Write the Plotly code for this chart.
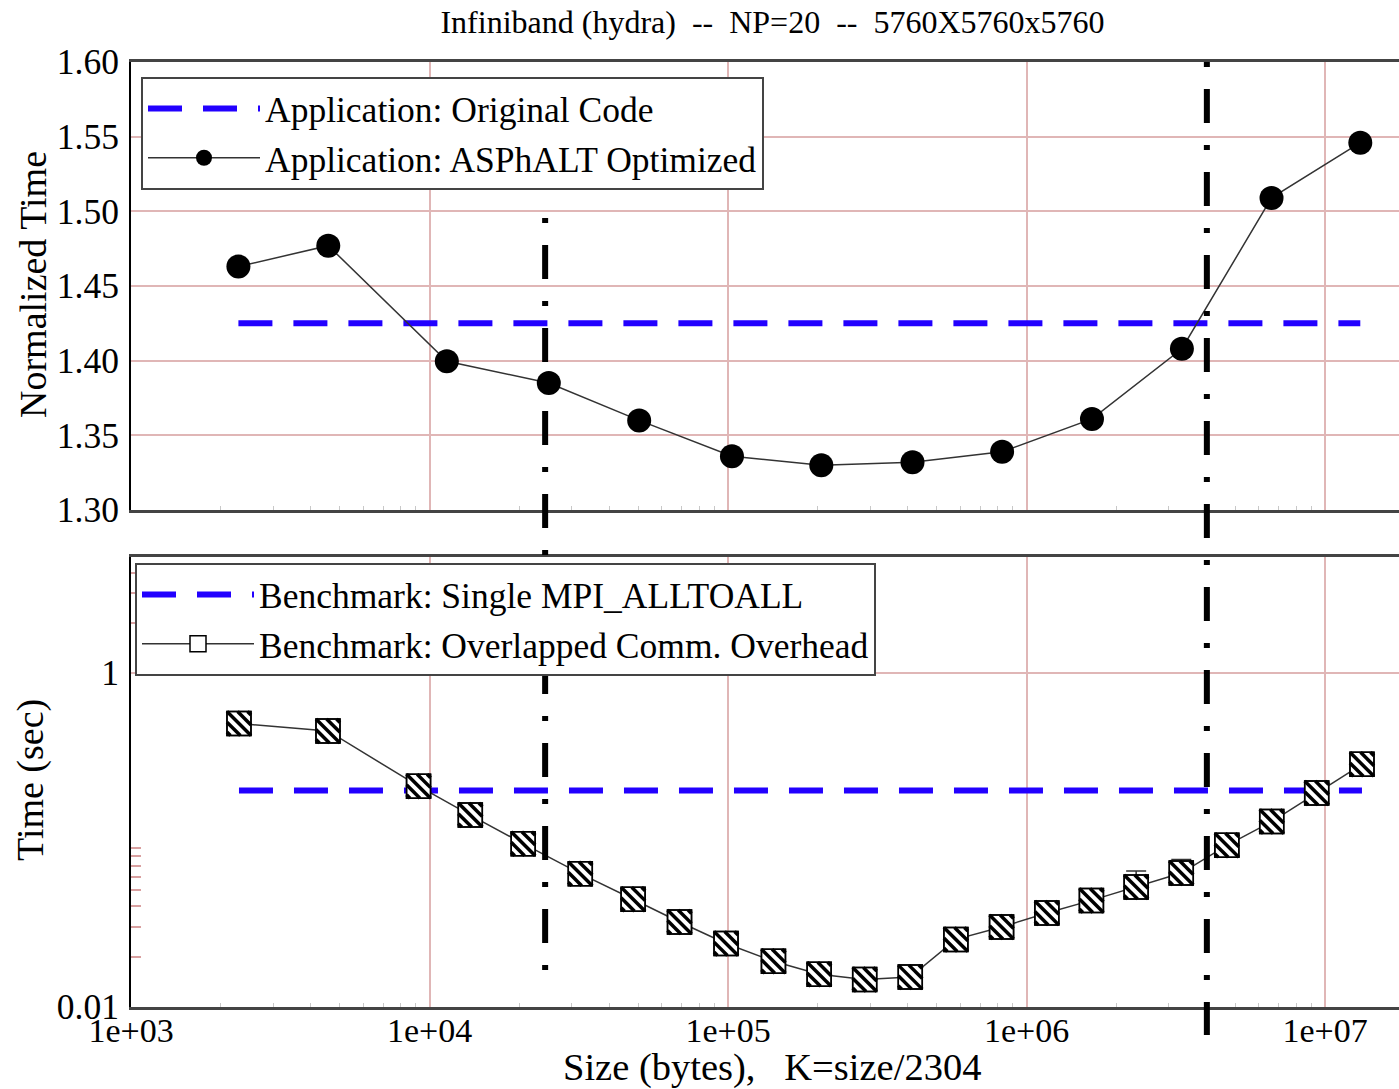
import plotly.graph_objects as go

# ---------------- data ----------------
app_sizes = [2290, 4580, 11430, 25100, 50400, 103100, 205400, 415000,
             828500, 1657000, 3316000, 6620000, 13130000]
app_optimized = [1.463, 1.477, 1.3996, 1.385, 1.360, 1.336, 1.330, 1.332,
                 1.339, 1.361, 1.408, 1.509, 1.546]
app_original = 1.425

bench_sizes = [2300, 4570, 9190, 13700, 20600, 32000, 48100, 68800, 98500,
               142000, 202000, 287000, 408000, 580000, 825000, 1170000,
               1650000, 2330000, 3300000, 4690000, 6630000, 9380000, 13300000]
bench_overlapped = [0.498, 0.450, 0.210, 0.141, 0.0951, 0.0629, 0.0442,
                    0.0323, 0.0240, 0.0188, 0.0157, 0.0146, 0.0151, 0.0254,
                    0.0301, 0.0366, 0.0435, 0.0523, 0.0634, 0.0929, 0.129,
                    0.191, 0.284]
bench_overlapped_err = [0] * 17 + [0.013, 0.013] + [0] * 4
bench_single = 0.198

marker_line_sizes = [24400, 4020000]

x_tickvals = [1e3, 1e4, 1e5, 1e6, 1e7]
x_ticktext = ["1e+03", "1e+04", "1e+05", "1e+06", "1e+07"]
x_minor = [m * 10 ** k for k in range(3, 7) for m in range(2, 10)]
top_yticks = [1.30, 1.35, 1.40, 1.45, 1.50, 1.55, 1.60]
bot_yticks = [0.01, 1]
bot_yticktext = ["0.01", "1"]
bot_yminor = [0.02, 0.03, 0.04, 0.05, 0.06, 0.07, 0.08, 0.09, 2, 3, 4]

title_text = "Infiniband (hydra)\u00a0 --\u00a0 NP=20\u00a0 --\u00a0 5760X5760x5760"

# ---------------- styles ----------------
FONT = "Liberation Serif"
BLUE = "#2200ff"
GRID = "#e0b6b6"
W, H = 1399, 1089
ML, MR, MT, MB = 131, 0, 62, 82
PH = H - MT - MB  # plot height in px
SQ = 24           # hatched square marker size (px)
STRIPE_W = 3.5


def py(px):
    """pixel row -> paper fraction"""
    return (H - MB - px) / PH


fig = go.Figure()

# ---- top panel ----
fig.add_trace(go.Scatter(
    x=[app_sizes[0], app_sizes[-1]], y=[app_original, app_original],
    mode="lines", name="Application: Original Code",
    line=dict(color=BLUE, width=6, dash="34px,21px"),
    xaxis="x", yaxis="y", legend="legend"))
fig.add_trace(go.Scatter(
    x=app_sizes, y=app_optimized, mode="lines+markers",
    name="Application: ASPhALT Optimized",
    line=dict(color="#333333", width=1.5),
    marker=dict(symbol="circle", size=24, color="black"),
    xaxis="x", yaxis="y", legend="legend"))

# ---- bottom panel ----
fig.add_trace(go.Scatter(
    x=[bench_sizes[0], bench_sizes[-1]], y=[bench_single, bench_single],
    mode="lines", name="Benchmark: Single MPI_ALLTOALL",
    line=dict(color=BLUE, width=6, dash="34px,21px"),
    xaxis="x2", yaxis="y2", legend="legend2"))
fig.add_trace(go.Scatter(
    x=bench_sizes, y=bench_overlapped, mode="lines+markers",
    name="Benchmark: Overlapped Comm. Overhead",
    line=dict(color="#333333", width=1.5),
    marker=dict(symbol="square", size=SQ, color="white",
                line=dict(color="black", width=1.5)),
    error_y=dict(type="data", array=bench_overlapped_err,
                 arrayminus=[0] * len(bench_overlapped_err),
                 color="#333333", thickness=1.5, width=10),
    xaxis="x2", yaxis="y2", legend="legend2"))

# hatch overlay: diagonal "\" stripes inside each square marker
half_diag = SQ / 2 * 2 ** 0.5
fig.add_trace(go.Scatter(
    x=bench_sizes, y=bench_overlapped, mode="markers", showlegend=False,
    marker=dict(symbol="line-nw", size=SQ, color="black",
                line=dict(color="black", width=STRIPE_W)),
    hoverinfo="skip", xaxis="x2", yaxis="y2"))
for off in (7.5, 14.5):
    seg_len = 2 * (half_diag - off)
    for ang in (45, 225):
        fig.add_trace(go.Scatter(
            x=bench_sizes, y=bench_overlapped, mode="markers",
            showlegend=False,
            marker=dict(symbol="line-ew", size=seg_len / 1.4, angle=ang,
                        standoff=off, color="black",
                        line=dict(color="black", width=STRIPE_W)),
            hoverinfo="skip", xaxis="x2", yaxis="y2"))
fig.add_trace(go.Scatter(
    x=bench_sizes, y=bench_overlapped, mode="markers", showlegend=False,
    marker=dict(symbol="square-open", size=SQ, color="black",
                line=dict(color="black", width=1.5)),
    hoverinfo="skip", xaxis="x2", yaxis="y2"))

# ---- vertical dash-dot markers ----
vl_extent = [(py(218), py(983)), (py(62), py(1035))]
for xv, (ytop, ybot) in zip(marker_line_sizes, vl_extent):
    fig.add_shape(type="line", xref="x2", yref="paper",
                  x0=xv, x1=xv, y0=ytop, y1=ybot,
                  line=dict(color="black", width=6, dash="5px,22px,34px,22px"),
                  layer="above")

xtick_font = dict(family=FONT, size=34, color="black")
ytick_font = dict(family=FONT, size=35.5, color="black")
xr = [3, 3 + (W - ML - MR) / 298.5]

common_x = dict(type="log", range=xr, tickmode="array", tickvals=x_tickvals,
                showgrid=True, gridcolor=GRID, gridwidth=1.5, ticks="",
                showline=True, linecolor="#444444", linewidth=2.5, mirror=True,
                zeroline=False, tickfont=xtick_font, ticklabelstandoff=-9,
                minor=dict(tickmode="array", tickvals=x_minor, ticks="inside",
                           ticklen=4, tickcolor="#c8c8c8", showgrid=False))

legend_font = dict(family=FONT, size=35.5, color="black")

fig.update_layout(
    width=W, height=H, autosize=False,
    margin=dict(l=ML, r=MR, t=MT, b=MB, pad=0),
    paper_bgcolor="white", plot_bgcolor="white",
    font=dict(family=FONT, color="black"),
    title=dict(text=title_text, font=dict(family=FONT, size=32, color="black"),
               xref="container", x=772.5 / W, xanchor="center",
               yref="container", y=1 - 22 / H, yanchor="middle"),
    xaxis=dict(**common_x, anchor="y", domain=[0, 1], showticklabels=False,
               matches="x2"),
    xaxis2=dict(**common_x, anchor="y2", domain=[0, 1], ticktext=x_ticktext,
                showticklabels=True),
    yaxis=dict(domain=[py(510), 1.0], range=[1.30, 1.60], tickmode="array",
               tickvals=top_yticks, ticktext=[f"{v:.2f}" for v in top_yticks],
               showgrid=True, gridcolor=GRID, gridwidth=1.5, ticks="",
               showline=True, linecolor="black", linewidth=2, mirror=False,
               zeroline=False, tickfont=ytick_font, ticklabelstandoff=3,
               anchor="x"),
    yaxis2=dict(domain=[0, py(557)], type="log", range=[-2, 0.695],
                tickmode="array", tickvals=bot_yticks, ticktext=bot_yticktext,
                showgrid=True, gridcolor=GRID, gridwidth=1.5, ticks="",
                showline=True, linecolor="black", linewidth=2, mirror=False,
                zeroline=False, tickfont=ytick_font, ticklabelstandoff=3,
                anchor="x2",
                minor=dict(tickmode="array", tickvals=bot_yminor,
                           ticks="inside", ticklen=10, tickcolor="#d9a0a0",
                           tickwidth=1.5, showgrid=False)),
    legend=dict(x=(141 - ML) / (W - ML), y=py(77), xanchor="left",
                yanchor="top", bgcolor="white", bordercolor="#444444",
                borderwidth=2, font=legend_font, itemwidth=112,
                tracegroupgap=0),
    legend2=dict(x=(135 - ML) / (W - ML), y=py(563), xanchor="left",
                 yanchor="top", bgcolor="white", bordercolor="#444444",
                 borderwidth=2, font=legend_font, itemwidth=112,
                 tracegroupgap=0),
    showlegend=True,
    annotations=[
        dict(text="Normalized Time", xref="paper", yref="paper",
             x=(33 - ML) / (W - ML), y=py(285), textangle=-90,
             showarrow=False, font=dict(family=FONT, size=38, color="black"),
             xanchor="center", yanchor="middle"),
        dict(text="Time (sec)", xref="paper", yref="paper",
             x=(30 - ML) / (W - ML), y=py(780), textangle=-90,
             showarrow=False, font=dict(family=FONT, size=38, color="black"),
             xanchor="center", yanchor="middle"),
        dict(text="Size (bytes),\u00a0\u00a0 K=size/2304", xref="paper",
             yref="paper", x=(772 - ML) / (W - ML), y=py(1067),
             showarrow=False, font=dict(family=FONT, size=38.5, color="black"),
             xanchor="center", yanchor="middle"),
    ],
)

fig.write_html("out.html")
